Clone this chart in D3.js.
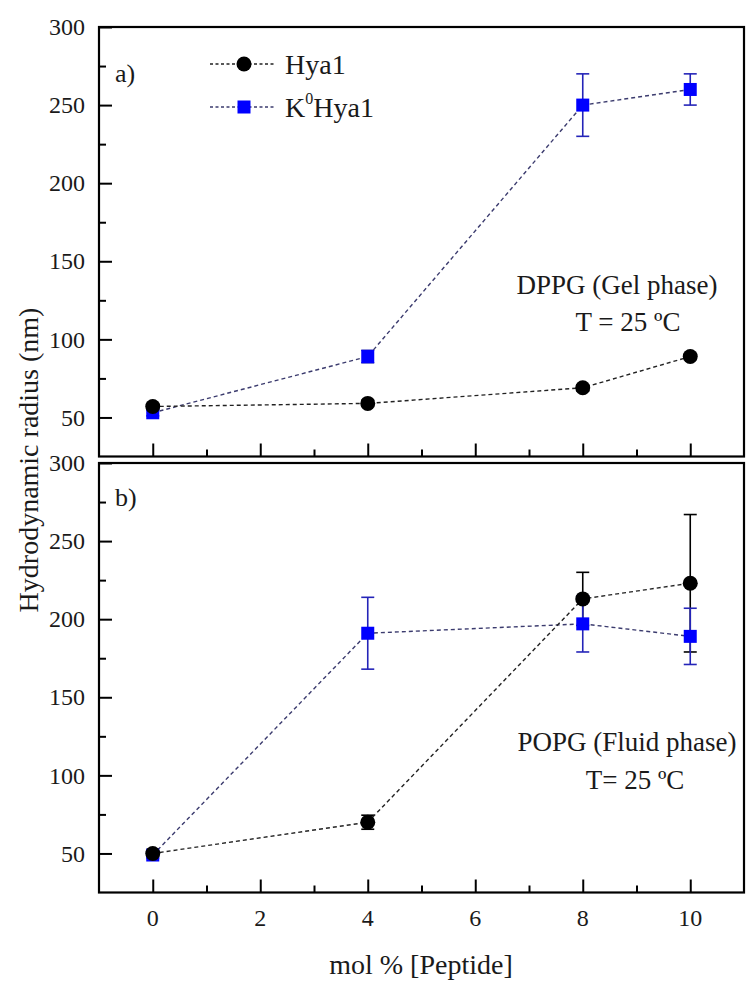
<!DOCTYPE html>
<html>
<head>
<meta charset="utf-8">
<script src="https://cdn.jsdelivr.net/npm/d3@7"></script>
<style>
  html, body { margin: 0; padding: 0; background: #fff; }
  svg { display: block; }
  svg text { font-family: "Liberation Serif", "Times New Roman", Times, serif; }
</style>
</head>
<body>
<svg id="chart" width="746" height="983"></svg>
<script>
// Peptide concentration (mol %)
const molPercent = [0, 4, 8, 10];

// Panel a) DPPG, gel phase
const dppgHya1 = [57, 59, 69, 89];
const dppgHya1Err = [2, 2, 2, 2];
const dppgK0Hya1 = [53, 89, 250, 260];
const dppgK0Hya1Err = [2, 4, 20, 10];

// Panel b) POPG, fluid phase
const popgHya1 = [50, 70, 213, 223];
const popgHya1Err = [2, 4.5, 17, 44];
const popgK0Hya1 = [49, 191, 197, 189];
const popgK0Hya1Err = [2, 23, 18, 18];

const xTicks = [0, 2, 4, 6, 8, 10];
const xMinorTicks = [1, 3, 5, 7, 9];
const yTicks = [50, 100, 150, 200, 250, 300];
const yMinorTicks = [75, 125, 175, 225, 275];

const FONT = "Liberation Serif";
const svg = d3.select("#chart");
const left = 99, right = 744;
const x = d3.scaleLinear().domain([-1, 11]).range([left, right]);

const panels = [
  { top: 27, bottom: 456.5, tag: "a)", tagY: 82,
    note: ["DPPG (Gel phase)", "T = 25 ºC"], noteX: [617, 628], noteY: [294, 331],
    hya: dppgHya1, hyaErr: dppgHya1Err, k0: dppgK0Hya1, k0Err: dppgK0Hya1Err, xLabels: false },
  { top: 463, bottom: 892.5, tag: "b)", tagY: 506,
    note: ["POPG (Fluid phase)", "T= 25 ºC"], noteX: [627, 635], noteY: [751, 789],
    hya: popgHya1, hyaErr: popgHya1Err, k0: popgK0Hya1, k0Err: popgK0Hya1Err, xLabels: true }
];

const textColor = "#1a1a1a";
const hyaColor = "#000000", hyaLine = "#222222";
const k0Color = "#0000ff", k0Line = "#3b3b6e", k0ErrColor = "#2424b8";

panels.forEach(p => {
  const y = d3.scaleLinear().domain([25, 300]).range([p.bottom, p.top]);
  const g = svg.append("g");

  // frame
  g.append("rect")
    .attr("x", left).attr("y", p.top)
    .attr("width", right - left).attr("height", p.bottom - p.top)
    .attr("fill", "none").attr("stroke", "#000").attr("stroke-width", 2.2);

  // left axis: major/minor ticks pointing inward
  const yAxis = g.append("g").attr("transform", `translate(${left},0)`)
    .call(d3.axisRight(y).tickValues(yTicks).tickSize(13).tickFormat(""));
  yAxis.select(".domain").remove();
  yAxis.selectAll("line").attr("stroke", "#000").attr("stroke-width", 2);
  const yMinor = g.append("g").attr("transform", `translate(${left},0)`)
    .call(d3.axisRight(y).tickValues(yMinorTicks).tickSize(7).tickFormat(""));
  yMinor.select(".domain").remove();
  yMinor.selectAll("line").attr("stroke", "#000").attr("stroke-width", 2);

  // y tick labels
  g.selectAll(".ylab").data(yTicks).join("text")
    .attr("x", 85).attr("y", d => y(d))
    .attr("dy", "0.34em")
    .attr("text-anchor", "end")
    .attr("font-family", FONT)
    .attr("font-size", 24).attr("fill", textColor)
    .text(d => d);

  // bottom axis ticks pointing inward
  const xAxis = g.append("g").attr("transform", `translate(0,${p.bottom})`)
    .call(d3.axisTop(x).tickValues(xTicks).tickSize(13).tickFormat(""));
  xAxis.select(".domain").remove();
  xAxis.selectAll("line").attr("stroke", "#000").attr("stroke-width", 2);
  const xMinor = g.append("g").attr("transform", `translate(0,${p.bottom})`)
    .call(d3.axisTop(x).tickValues(xMinorTicks).tickSize(7).tickFormat(""));
  xMinor.select(".domain").remove();
  xMinor.selectAll("line").attr("stroke", "#000").attr("stroke-width", 2);

  if (p.xLabels) {
    g.selectAll(".xlab").data(xTicks).join("text")
      .attr("x", d => x(d)).attr("y", 926)
      .attr("text-anchor", "middle")
      .attr("font-family", FONT)
      .attr("font-size", 24).attr("fill", textColor)
      .text(d => d);
  }

  // panel tag
  g.append("text").attr("x", 115).attr("y", p.tagY)
    .attr("font-family", FONT)
    .attr("font-size", 26).attr("fill", textColor).text(p.tag);

  // annotation
  p.note.forEach((t, i) => {
    g.append("text").attr("x", p.noteX[i]).attr("y", p.noteY[i])
      .attr("text-anchor", "middle")
      .attr("font-family", FONT)
      .attr("font-size", 27).attr("fill", textColor).text(t);
  });

  const rows = (vals, errs) => molPercent.map((m, i) => ({ m, v: vals[i], e: errs[i] }));
  const hyaRows = rows(p.hya, p.hyaErr);
  const k0Rows = rows(p.k0, p.k0Err);

  // error bars
  const drawErr = (data, color) => {
    const eg = g.append("g").attr("stroke", color).attr("stroke-width", 1.6);
    data.forEach(d => {
      eg.append("line").attr("x1", x(d.m)).attr("x2", x(d.m))
        .attr("y1", y(d.v - d.e)).attr("y2", y(d.v + d.e));
      [d.v - d.e, d.v + d.e].forEach(v => {
        eg.append("line").attr("x1", x(d.m) - 6.5).attr("x2", x(d.m) + 6.5)
          .attr("y1", y(v)).attr("y2", y(v));
      });
    });
  };
  drawErr(hyaRows, hyaColor);
  drawErr(k0Rows, k0ErrColor);

  // dashed connecting lines
  const line = d3.line().x(d => x(d.m)).y(d => y(d.v));
  g.append("path").datum(k0Rows).attr("d", line)
    .attr("fill", "none").attr("stroke", k0Line).attr("stroke-width", 1.4)
    .attr("stroke-dasharray", "4,3");
  g.append("path").datum(hyaRows).attr("d", line)
    .attr("fill", "none").attr("stroke", hyaLine).attr("stroke-width", 1.4)
    .attr("stroke-dasharray", "4,3");

  // markers
  g.selectAll(".sq").data(k0Rows).join("rect")
    .attr("x", d => x(d.m) - 6.5).attr("y", d => y(d.v) - 6.5)
    .attr("width", 13).attr("height", 13).attr("fill", k0Color);
  g.selectAll(".ci").data(hyaRows).join("circle")
    .attr("cx", d => x(d.m)).attr("cy", d => y(d.v)).attr("r", 7.5)
    .attr("fill", hyaColor);
});

// legend
const legend = svg.append("g");
[
  { y: 64, kind: "circle", stroke: hyaLine, fill: hyaColor },
  { y: 107, kind: "square", stroke: k0Line, fill: k0Color }
].forEach(d => {
  legend.append("line").attr("x1", 210).attr("x2", 276).attr("y1", d.y).attr("y2", d.y)
    .attr("stroke", d.stroke).attr("stroke-width", 1.3).attr("stroke-dasharray", "3,2.5");
  if (d.kind === "circle") {
    legend.append("circle").attr("cx", 244).attr("cy", d.y).attr("r", 7.5).attr("fill", d.fill);
  } else {
    legend.append("rect").attr("x", 237.5).attr("y", d.y - 6.5).attr("width", 13).attr("height", 13).attr("fill", d.fill);
  }
});
legend.append("text").attr("x", 285).attr("y", 74)
  .attr("font-family", FONT).attr("font-size", 28).attr("fill", textColor).text("Hya1");
const k0Text = legend.append("text").attr("x", 285).attr("y", 117)
  .attr("font-family", FONT).attr("font-size", 28).attr("fill", textColor);
k0Text.append("tspan").text("K");
k0Text.append("tspan").attr("font-size", 16).attr("dy", -13).text("0");
k0Text.append("tspan").attr("dy", 13).text("Hya1");

// axis titles
svg.append("text")
  .attr("transform", "translate(38,460) rotate(-90)")
  .attr("text-anchor", "middle")
  .attr("font-family", FONT).attr("font-size", 28).attr("fill", textColor)
  .text("Hydrodynamic radius (nm)");
svg.append("text")
  .attr("x", 421).attr("y", 974)
  .attr("text-anchor", "middle")
  .attr("font-family", FONT).attr("font-size", 28).attr("fill", textColor)
  .text("mol % [Peptide]");
</script>
</body>
</html>
